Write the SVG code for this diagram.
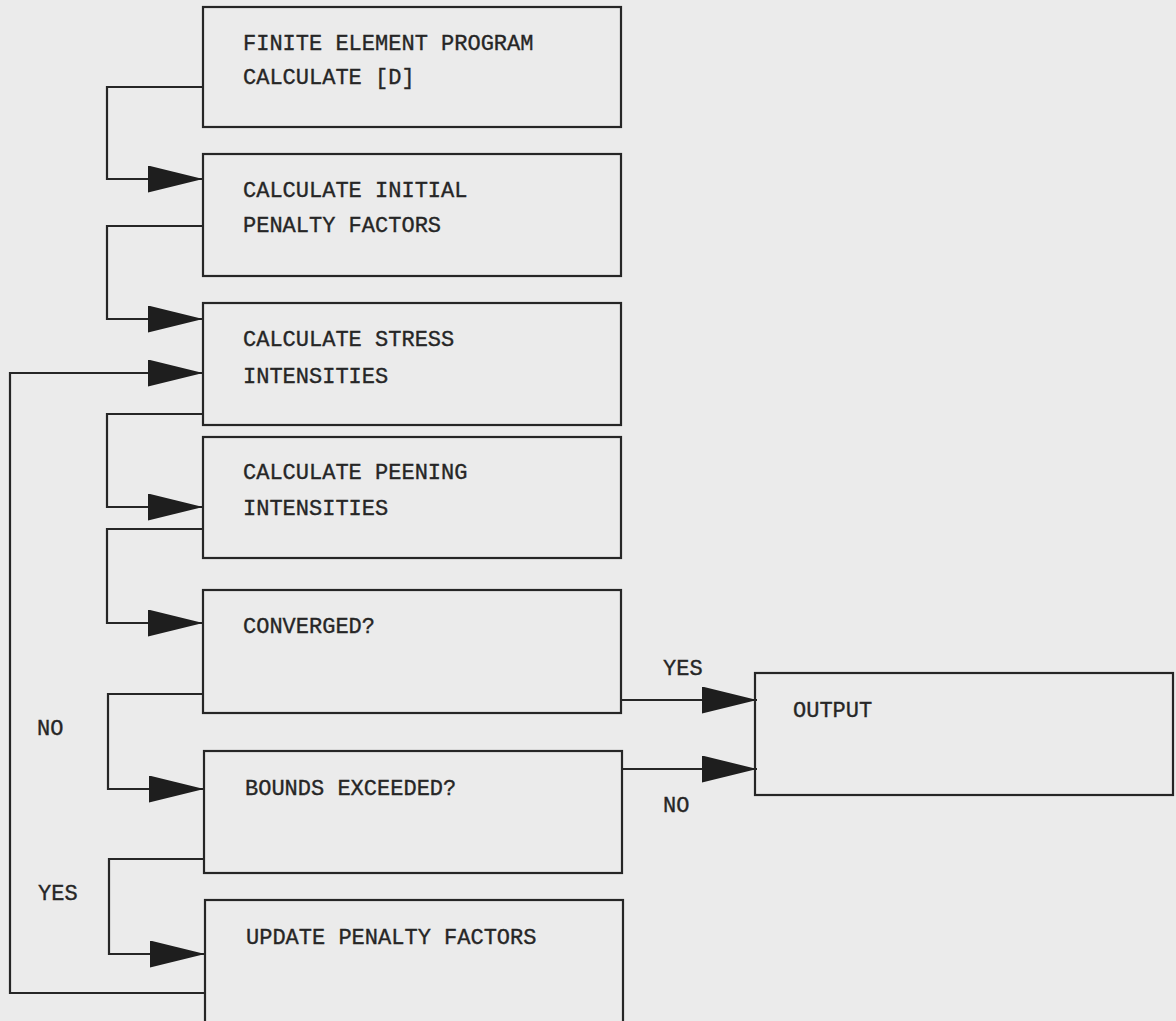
<svg xmlns="http://www.w3.org/2000/svg" width="1176" height="1021" viewBox="0 0 1176 1021">
<style>
.box{fill:none;stroke:#262626;stroke-width:2.2}
.con{fill:none;stroke:#262626;stroke-width:2.2}
text{font-family:"Liberation Mono","Courier New",monospace;font-size:22px;fill:#262626;stroke:#262626;stroke-width:0.35}
</style>
<defs>
<marker id="arr" markerUnits="userSpaceOnUse" markerWidth="56" markerHeight="28" refX="55" refY="13.5" orient="auto">
<path d="M0,0 L55,13.5 L0,27 z" fill="#1e1e1e"/>
</marker>
</defs>
<rect width="1176" height="1021" fill="#ebebeb"/>
<g id="connectors">
<path class="con" d="M203,87 H107 V179 H203" marker-end="url(#arr)"/>
<path class="con" d="M203,226 H107 V319 H203" marker-end="url(#arr)"/>
<path class="con" d="M203,414 H107 V507 H203" marker-end="url(#arr)"/>
<path class="con" d="M203,529 H107 V623 H203" marker-end="url(#arr)"/>
<path class="con" d="M204,694 H108 V789 H204" marker-end="url(#arr)"/>
<path class="con" d="M204,859 H109 V954 H205" marker-end="url(#arr)"/>
<path class="con" d="M205,993 H10 V373 H203" marker-end="url(#arr)"/>
<path class="con" d="M621,700 H757" marker-end="url(#arr)"/>
<path class="con" d="M622,769 H757" marker-end="url(#arr)"/>
<text x="663" y="675">YES</text>
<text x="663" y="812">NO</text>
<text x="37" y="735">NO</text>
<text x="38" y="900">YES</text>
</g>
<g id="fem">
<rect class="box" x="203" y="7" width="418" height="120"/>
<text x="243" y="50">FINITE ELEMENT PROGRAM</text>
<text x="243" y="84">CALCULATE [D]</text>
</g>
<g id="initial">
<rect class="box" x="203" y="154" width="418" height="122"/>
<text x="243" y="197">CALCULATE INITIAL</text>
<text x="243" y="232">PENALTY FACTORS</text>
</g>
<g id="stress">
<rect class="box" x="203" y="303" width="418" height="122"/>
<text x="243" y="346">CALCULATE STRESS</text>
<text x="243" y="383">INTENSITIES</text>
</g>
<g id="peening">
<rect class="box" x="203" y="437" width="418" height="121"/>
<text x="243" y="479">CALCULATE PEENING</text>
<text x="243" y="515">INTENSITIES</text>
</g>
<g id="converged">
<rect class="box" x="203" y="590" width="418" height="123"/>
<text x="243" y="633">CONVERGED?</text>
</g>
<g id="bounds">
<rect class="box" x="204" y="751" width="418" height="122"/>
<text x="245" y="795">BOUNDS EXCEEDED?</text>
</g>
<g id="update">
<rect class="box" x="205" y="900" width="418" height="140"/>
<text x="246" y="944">UPDATE PENALTY FACTORS</text>
</g>
<g id="output">
<rect class="box" x="755" y="673" width="418" height="122"/>
<text x="793" y="717">OUTPUT</text>
</g>
</svg>
